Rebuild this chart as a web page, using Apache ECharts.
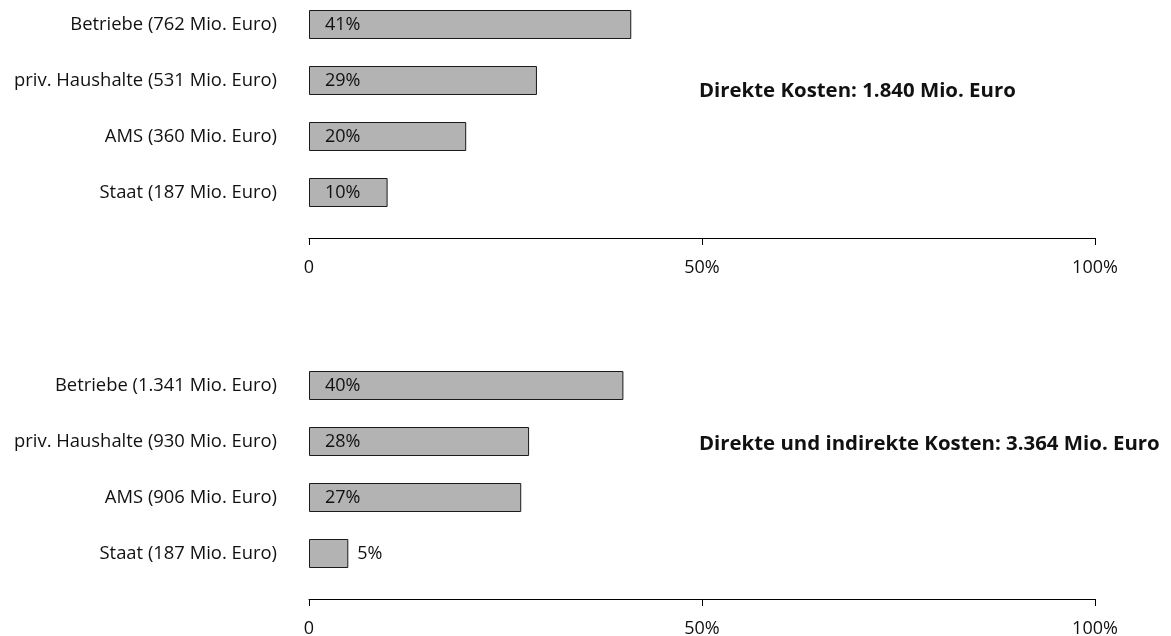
<!DOCTYPE html>
<html>
<head>
<meta charset="utf-8">
<script src="https://cdn.jsdelivr.net/npm/echarts@6/dist/echarts.min.js"></script>
<style>
  html, body { margin: 0; padding: 0; background: #fff; }
  #chart { width: 1171px; height: 636px; }
</style>
</head>
<body>
<div id="chart"></div>
<script>
// Daten
const topCategories = ['Betriebe (762 Mio. Euro)', 'priv. Haushalte (531 Mio. Euro)', 'AMS (360 Mio. Euro)', 'Staat (187 Mio. Euro)'];
const topShares = [41, 29, 20, 10];
const bottomCategories = ['Betriebe (1.341 Mio. Euro)', 'priv. Haushalte (930 Mio. Euro)', 'AMS (906 Mio. Euro)', 'Staat (187 Mio. Euro)'];
const bottomShares = [40, 28, 27, 5];
const topTitle = 'Direkte Kosten: 1.840 Mio. Euro';
const bottomTitle = 'Direkte und indirekte Kosten: 3.364 Mio. Euro';
const tickLabels = { 0: '0', 50: '50%', 100: '100%' };

const font = 'Open Sans';

function barData(values) {
  // kurze Balken bekommen das Label rechts daneben
  return values.map(v => {
    if (v < 8) {
      return { value: v, label: { position: 'right', distance: 9 } };
    }
    return v;
  });
}

function xAxisFor(idx) {
  return {
    gridIndex: idx,
    type: 'value',
    min: 0,
    max: 100,
    interval: 50,
    offset: 45.5,
    axisLine: { show: true, lineStyle: { color: '#000', width: 1 } },
    axisTick: { show: true, length: 7, lineStyle: { color: '#000' } },
    axisLabel: {
      margin: 21,
      color: '#111',
      fontFamily: font,
      fontSize: 18,
      formatter: v => tickLabels[v]
    },
    splitLine: { show: false }
  };
}

function yAxisFor(idx, cats) {
  return {
    gridIndex: idx,
    type: 'category',
    data: cats,
    inverse: true,
    boundaryGap: false,
    axisLine: { show: false },
    axisTick: { show: false },
    axisLabel: { margin: 32, color: '#111', fontFamily: font, fontSize: 18.4 }
  };
}

function barSeries(idx, values) {
  return {
    type: 'bar',
    xAxisIndex: idx,
    yAxisIndex: idx,
    barWidth: 29,
    data: barData(values),
    itemStyle: { color: '#b3b3b3', borderColor: '#1a1a1a', borderWidth: 1 },
    label: {
      show: true,
      position: 'insideLeft',
      distance: 16,
      formatter: '{c}%',
      color: '#111',
      fontFamily: font,
      fontSize: 18
    }
  };
}

let myChart = echarts.init(document.getElementById('chart'));
myChart.setOption({
  animation: false,
  title: [
    { text: topTitle, left: 694, top: 76,
      textStyle: { fontFamily: font, fontSize: 20.4, fontWeight: 'bold', color: '#111' } },
    { text: bottomTitle, left: 694, top: 429,
      textStyle: { fontFamily: font, fontSize: 20.4, fontWeight: 'bold', color: '#111' } }
  ],
  grid: [
    { left: 309, width: 786, top: 24.5, height: 168, outerBoundsMode: 'none' },
    { left: 309, width: 786, top: 385.5, height: 168, outerBoundsMode: 'none' }
  ],
  xAxis: [xAxisFor(0), xAxisFor(1)],
  yAxis: [yAxisFor(0, topCategories), yAxisFor(1, bottomCategories)],
  series: [barSeries(0, topShares), barSeries(1, bottomShares)]
});
</script>
</body>
</html>
